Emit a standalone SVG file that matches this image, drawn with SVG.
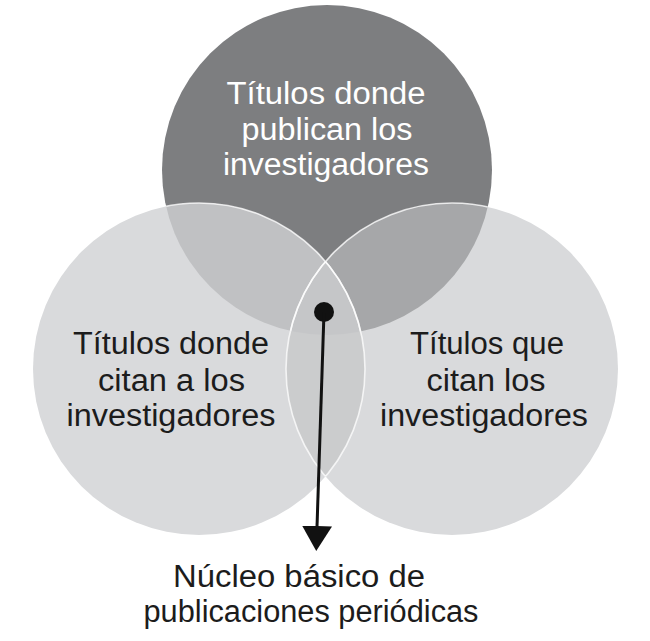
<svg xmlns="http://www.w3.org/2000/svg" width="650" height="641" viewBox="0 0 650 641">
<style>
.t{font-family:"Liberation Sans","Arial",sans-serif;font-size:31px;text-anchor:middle;fill:#1c1c1c}
.tw{fill:#ffffff}
.edge{fill:none;stroke:#ffffff;stroke-opacity:0.75;stroke-width:1.6}
</style>
<defs>
<clipPath id="cTop"><circle cx="327" cy="170" r="165"/></clipPath>
<clipPath id="cLeft"><circle cx="199" cy="369" r="166"/></clipPath>
<clipPath id="cRight"><circle cx="452" cy="369" r="166"/></clipPath>
<marker id="arr" viewBox="0 0 26 30" refX="1" refY="15" markerWidth="26" markerHeight="30" markerUnits="userSpaceOnUse" orient="auto">
<path d="M0,0 L25,15 L0,30 Z" fill="#111111"/>
</marker>
</defs>
<rect width="650" height="641" fill="#ffffff"/>
<g id="circles">
<g id="top"><circle cx="327" cy="170" r="165" fill="#7d7e80"/></g>
<g id="left"><circle cx="199" cy="369" r="166" fill="#d9dadc"/></g>
<g id="right"><circle cx="452" cy="369" r="166" fill="#d9dadc"/></g>
<g id="top-left" clip-path="url(#cLeft)"><circle cx="327" cy="170" r="165" fill="#c0c1c3"/></g>
<g id="top-right" clip-path="url(#cRight)"><circle cx="327" cy="170" r="165" fill="#a6a7a9"/></g>
<g id="left-right" clip-path="url(#cRight)"><circle cx="199" cy="369" r="166" fill="#cbcccd"/></g>
<g id="core" clip-path="url(#cRight)"><g clip-path="url(#cLeft)"><circle cx="327" cy="170" r="165" fill="#c5c6c8"/></g></g>
<circle class="edge" cx="199" cy="369" r="166" clip-path="url(#cTop)"/>
<circle class="edge" cx="452" cy="369" r="166" clip-path="url(#cTop)"/>
<circle class="edge" cx="452" cy="369" r="166" clip-path="url(#cLeft)"/>
<circle class="edge" cx="199" cy="369" r="166" clip-path="url(#cRight)" stroke-opacity="0.45"/>
</g>
<g id="labels">
<g id="label-top">
<text class="t tw" x="326" y="104" textLength="199" lengthAdjust="spacingAndGlyphs">Títulos donde</text>
<text class="t tw" x="327" y="140" textLength="171" lengthAdjust="spacingAndGlyphs">publican los</text>
<text class="t tw" x="326" y="175" textLength="206" lengthAdjust="spacingAndGlyphs">investigadores</text>
</g>
<g id="label-left">
<text class="t" x="171" y="354" textLength="196" lengthAdjust="spacingAndGlyphs">Títulos donde</text>
<text class="t" x="171.5" y="391" textLength="147" lengthAdjust="spacingAndGlyphs">citan a los</text>
<text class="t" x="171" y="426" textLength="209" lengthAdjust="spacingAndGlyphs">investigadores</text>
</g>
<g id="label-right">
<text class="t" x="487" y="354" textLength="154" lengthAdjust="spacingAndGlyphs">Títulos que</text>
<text class="t" x="486" y="391" textLength="119" lengthAdjust="spacingAndGlyphs">citan los</text>
<text class="t" x="484" y="426" textLength="208" lengthAdjust="spacingAndGlyphs">investigadores</text>
</g>
<g id="label-bottom">
<text class="t" x="299" y="587" textLength="252" lengthAdjust="spacingAndGlyphs">Núcleo básico de</text>
<text class="t" x="311" y="622" textLength="335" lengthAdjust="spacingAndGlyphs">publicaciones periódicas</text>
</g>
</g>
<g id="connectors">
<circle cx="324" cy="312" r="10" fill="#111111"/>
<line x1="324" y1="312" x2="317" y2="527" stroke="#111111" stroke-width="3" marker-end="url(#arr)"/>
</g>
</svg>
